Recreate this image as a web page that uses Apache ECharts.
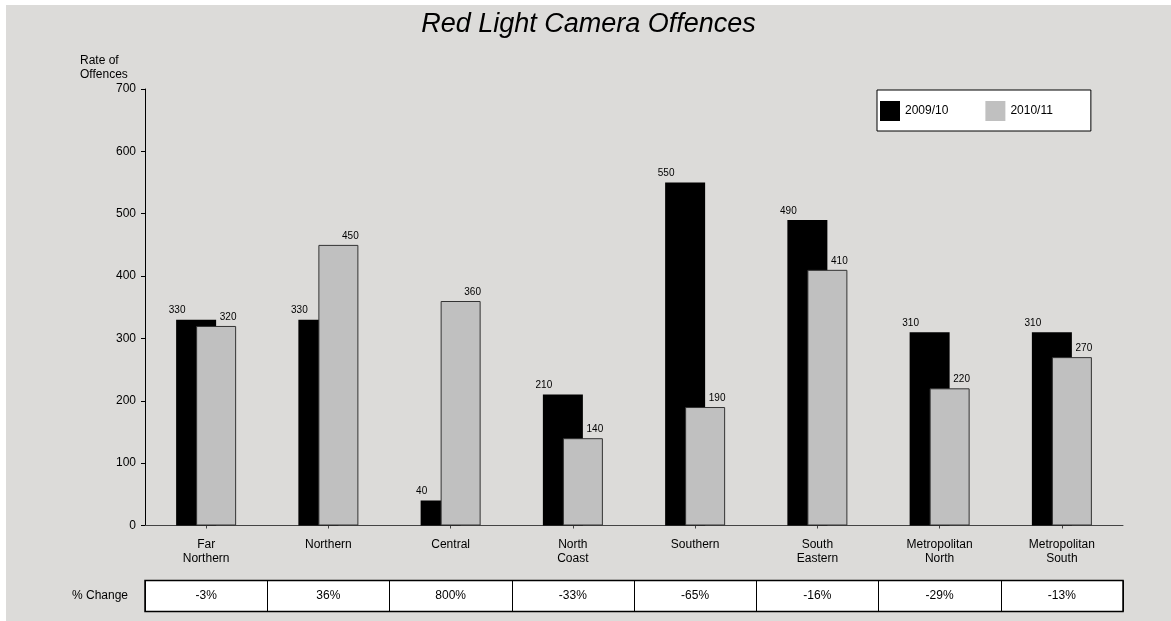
<!DOCTYPE html>
<html>
<head>
<meta charset="utf-8">
<script src="https://cdn.jsdelivr.net/npm/echarts@6/dist/echarts.min.js"></script>
<style>
html,body{margin:0;padding:0;background:#ffffff;}
#wrap{position:relative;width:1171px;height:621px;background:#ffffff;overflow:hidden;}
#chart{position:absolute;left:6px;top:5px;width:1165px;height:616px;}
</style>
</head>
<body>
<div id="wrap"><div id="chart"></div></div>
<script>
const categories = ['Far\nNorthern', 'Northern', 'Central', 'North\nCoast', 'Southern', 'South\nEastern', 'Metropolitan\nNorth', 'Metropolitan\nSouth'];
const series2009 = [330, 330, 40, 210, 550, 490, 310, 310];
const series2010 = [320, 450, 360, 140, 190, 410, 220, 270];
const pctChange = ['-3%', '36%', '800%', '-33%', '-65%', '-16%', '-29%', '-13%'];
const yTicks = [0, 100, 200, 300, 400, 500, 600, 700];

const FONT = "'Liberation Sans', Arial, sans-serif";
const chart = echarts.init(document.getElementById('chart'), null, {renderer: 'canvas'});

const option = {
  backgroundColor: '#dcdbd9',
  animation: false,
  textStyle: {fontFamily: FONT, color: '#000'},
  title: [
    {
      text: 'Red Light Camera Offences',
      left: 'center', top: 0, padding: [6, 5],
      textStyle: {fontFamily: FONT, fontSize: 27, fontStyle: 'italic', fontWeight: 'normal', color: '#000'}
    },
    {
      text: 'Rate of\nOffences',
      left: 74, top: 49, padding: 0,
      textStyle: {fontFamily: FONT, fontSize: 12, fontWeight: 'normal', color: '#000', lineHeight: 14}
    }
  ],
  legend: {
    data: ['2009/10', '2010/11'],
    left: 871, top: 85,
    orient: 'horizontal',
    backgroundColor: '#ffffff',
    borderColor: '#000', borderWidth: 1, borderRadius: 0,
    padding: [11, 38, 10, 3],
    itemWidth: 20, itemHeight: 20, itemGap: 37,
    icon: 'rect',
    itemStyle: {borderWidth: 0},
    textStyle: {fontFamily: FONT, fontSize: 12, color: '#000'}
  },
  grid: [
    {left: 139, width: 978, top: 84, height: 436.5, containLabel: false},
    {left: 139, width: 978, top: 575.5, height: 31, show: true, backgroundColor: '#ffffff', borderColor: '#000', borderWidth: 1.5, containLabel: false}
  ],
  xAxis: [
    {
      type: 'category', gridIndex: 0, data: categories,
      axisLine: {show: true, lineStyle: {color: '#444', width: 1}},
      axisTick: {show: true, alignWithLabel: true, length: 3, lineStyle: {color: '#444'}},
      axisLabel: {interval: 0, margin: 12, fontFamily: FONT, fontSize: 12, color: '#000', lineHeight: 14}
    },
    {
      type: 'category', gridIndex: 1, data: pctChange,
      axisLine: {show: false}, axisTick: {show: false},
      splitLine: {show: true, interval: 0, lineStyle: {color: '#000', width: 1}},
      axisLabel: {interval: 0, margin: -15.5, verticalAlign: 'middle', fontFamily: FONT, fontSize: 12, color: '#000'}
    }
  ],
  yAxis: [
    {
      type: 'value', gridIndex: 0, min: yTicks[0], max: yTicks[yTicks.length - 1], interval: 100,
      axisLine: {show: true, lineStyle: {color: '#000', width: 1}},
      axisTick: {show: true, length: 4, lineStyle: {color: '#000'}},
      splitLine: {show: false},
      axisLabel: {margin: 9, fontFamily: FONT, fontSize: 12, color: '#000'}
    },
    {
      type: 'category', gridIndex: 1, data: ['% Change'],
      axisLine: {show: false}, axisTick: {show: false}, splitLine: {show: false},
      axisLabel: {margin: 17, fontFamily: FONT, fontSize: 12, color: '#000'}
    }
  ],
  series: [
    {
      name: '2009/10', type: 'bar', xAxisIndex: 0, yAxisIndex: 0,
      data: series2009, barWidth: 40, barGap: '-50%',
      itemStyle: {color: '#000000'},
      label: {show: true, position: 'top', distance: 4, offset: [-19, 0], fontFamily: FONT, fontSize: 10, color: '#000'}
    },
    {
      name: '2010/11', type: 'bar', xAxisIndex: 0, yAxisIndex: 0,
      data: series2010, barWidth: 40, barGap: '-50%',
      itemStyle: {color: '#c0c0c0', borderColor: '#333', borderWidth: 1},
      label: {show: true, position: 'top', distance: 4, offset: [12, 0], fontFamily: FONT, fontSize: 10, color: '#000'}
    }
  ]
};
chart.setOption(option);
</script>
</body>
</html>
